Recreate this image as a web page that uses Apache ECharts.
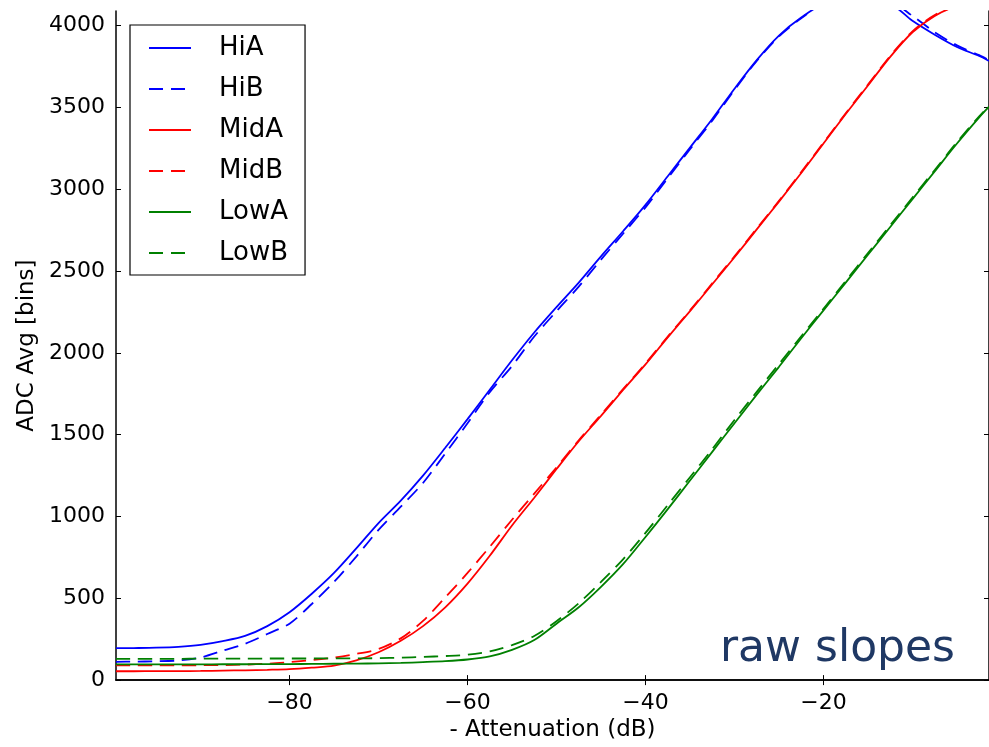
<!DOCTYPE html>
<html>
<head>
<meta charset="utf-8">
<script src="https://cdn.jsdelivr.net/npm/echarts@6/dist/echarts.min.js"></script>
<style>html,body{margin:0;padding:0;background:#fff}#c{width:989px;height:747px}</style>
</head>
<body>
<div id="c"></div>
<script>
const atten = [-99.5,-97.5,-95,-92.5,-90,-87.5,-85,-82.5,-80,-77.5,-75,-72.5,-70,-67.5,-65,-62.5,-60,-57.5,-55,-52.5,-50,-47.5,-45,-42.5,-40,-37.5,-35,-32.5,-30,-27.5,-25,-22.5,-20,-17.5,-15,-12.5,-10,-7.5,-5,-2.5,-1.4];
const hiA  = [195,196,198,203,215,238,270,330,415,528,655,805,960,1097,1250,1420,1595,1775,1955,2125,2280,2430,2590,2745,2905,3080,3255,3430,3615,3790,3940,4050,4130,4140,4140,4130,4030,3945,3870,3815,3785];
const hiB  = [112,113,115,120,138,180,222,282,345,465,600,755,918,1060,1205,1385,1570,1760,1920,2100,2255,2405,2570,2730,2890,3068,3245,3420,3608,3785,3935,4045,4130,4140,4140,4140,4060,3960,3880,3820,3790];
const midA = [54,54,55,55,56,58,60,63,67,76,88,120,170,240,330,445,590,760,945,1115,1290,1460,1615,1775,1930,2095,2255,2420,2585,2755,2925,3100,3280,3460,3635,3810,3960,4060,4120,4140,4140];
const midB = [90,90,90,90,91,92,95,100,110,122,138,160,190,255,362,505,655,815,980,1140,1300,1466,1622,1780,1935,2100,2260,2425,2590,2760,2930,3105,3285,3465,3640,3815,3965,4065,4120,4140,4140];
const lowA = [96,96,96,96,96,97,97,98,98,99,100,101,102,105,110,116,126,145,185,245,345,445,570,710,875,1045,1220,1395,1570,1745,1915,2090,2260,2430,2600,2770,2940,3110,3280,3440,3505];
const lowB = [130,130,130,130,131,131,131,132,132,132,133,133,134,137,142,147,155,175,214,270,360,470,600,740,900,1070,1240,1412,1590,1762,1932,2102,2270,2440,2610,2780,2950,3118,3288,3446,3510];
const xTicks = [-80,-60,-40,-20];
const yTicks = [0,500,1000,1500,2000,2500,3000,3500,4000];
const seriesNames = ['HiA','HiB','MidA','MidB','LowA','LowB'];
const seriesData = [hiA,hiB,midA,midB,lowA,lowB];
const seriesColors = ['#0000ff','#0000ff','#ff0000','#ff0000','#008000','#008000'];
const seriesDashed = [false,true,false,true,false,true];

const FONT = 'DejaVu Sans';
const minus = v => String(v).replace('-', '\u2212');
const plain = v => String(v);

const chart = echarts.init(document.getElementById('c'), null, {renderer:'canvas'});
const axisLine = {show:true, lineStyle:{color:'#000', width:1.5}};
const tick = {show:true, inside:true, length:5, lineStyle:{color:'#000', width:1}};

chart.setOption({
  animation:false,
  backgroundColor:'#fff',
  textStyle:{fontFamily:FONT},
  grid:{left:116, right:-2, top:11, bottom:55, containLabel:false},
  legend:{
    orient:'vertical', left:130, top:25,
    data: seriesNames,
    itemWidth:42, itemHeight:14, itemGap:15,
    itemStyle:{opacity:0},
    backgroundColor:'#fff', borderColor:'#000', borderWidth:1.2, borderRadius:0,
    padding:[10,17,9,18],
    textStyle:{fontSize:26, lineHeight:26, color:'#000', fontFamily:FONT, padding:[0,0,0,23]}
  },
  xAxis:[{
    type:'value', min:-99.5, max:-1.4, position:'bottom',
    axisLine:axisLine, axisTick:Object.assign({customValues:xTicks}, tick),
    axisLabel:{customValues:xTicks, formatter:minus, fontSize:22, color:'#000', margin:12, fontFamily:FONT},
    splitLine:{show:false},
    name:'- Attenuation (dB)', nameLocation:'middle', nameGap:32,
    nameTextStyle:{fontSize:23, color:'#000', fontFamily:FONT}
  },{
    type:'value', min:-99.5, max:-1.4, position:'top',
    axisLine:axisLine, axisTick:Object.assign({customValues:xTicks}, tick),
    axisLabel:{show:false}, splitLine:{show:false}
  }],
  yAxis:[{
    type:'value', min:0, max:4090, position:'left',
    axisLine:axisLine, axisTick:Object.assign({customValues:yTicks}, tick),
    axisLabel:{customValues:yTicks, formatter:plain, fontSize:22, color:'#000', margin:11, fontFamily:FONT},
    splitLine:{show:false},
    name:'ADC Avg [bins]', nameLocation:'middle', nameGap:76,
    nameTextStyle:{fontSize:23, color:'#000', fontFamily:FONT}
  },{
    type:'value', min:0, max:4090, position:'right',
    axisLine:axisLine, axisTick:Object.assign({customValues:yTicks}, tick),
    axisLabel:{show:false}, splitLine:{show:false}
  }],
  series: seriesNames.map((n,i)=>({
    name:n, type:'line', xAxisIndex:0, yAxisIndex:0,
    data: atten.map((x,k)=>[x, seriesData[i][k]]),
    showSymbol:false, symbol:'none', smooth:0.3, clip:true,
    lineStyle:{color:seriesColors[i], width:1.8, type: seriesDashed[i] ? [14,8] : 'solid'},
    itemStyle:{color:seriesColors[i]}
  })),
  graphic:[{
    type:'text', left:720, top:628, z:100,
    style:{text:'raw slopes', fontSize:44, fill:'#1f3864', fontFamily:"'Comic Sans MS', 'DejaVu Sans'"}
  }]
});
</script>
</body>
</html>
